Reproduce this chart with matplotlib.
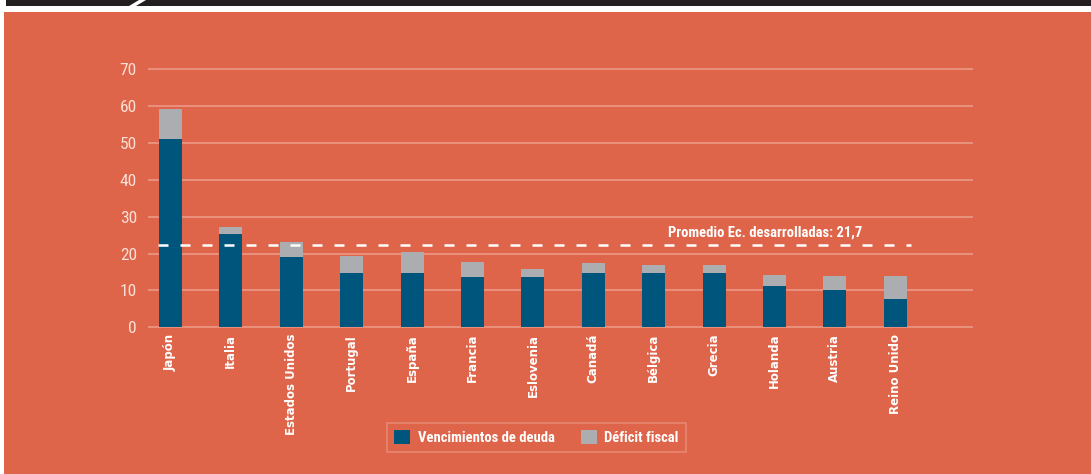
import matplotlib
matplotlib.use("Agg")
import matplotlib.pyplot as plt
from matplotlib.patches import Rectangle, Polygon, Patch
from matplotlib import font_manager
import numpy as np

paises = ["Japón", "Italia", "Estados Unidos", "Portugal", "España", "Francia",
          "Eslovenia", "Canadá", "Bélgica", "Grecia", "Holanda", "Austria",
          "Reino Unido"]
vencimientos = [51.0, 25.4, 19.0, 14.8, 14.6, 13.5, 13.5, 14.6, 14.6, 14.6, 11.1, 10.0, 7.8]
deficit = [8.2, 1.8, 4.1, 4.5, 5.7, 4.1, 2.4, 2.7, 2.2, 2.2, 3.2, 4.0, 6.2]
promedio = "21,7"
promedio_linea = 22.4   # posicion dibujada en el original
yticks = [0, 10, 20, 30, 40, 50, 60, 70]

naranja = "#DE644A"
azul = "#00557D"
gris = "#ABADB1"
rejilla = "#E9907D"
texto_claro = "#FBE0D6"

# fuente estrecha si existe
instaladas = {f.name for f in font_manager.fontManager.ttflist}
narrow = [f for f in ["Liberation Sans Narrow", "DejaVu Sans Condensed", "Roboto Condensed",
                      "Open Sans Condensed"] if f in instaladas] + ["DejaVu Sans"]
estirar = "normal" if narrow[0] != "DejaVu Sans" else "condensed"

W, H = 1091, 474
fig = plt.figure(figsize=(W / 100, H / 100), dpi=100)
fig.patch.set_facecolor("white")

# fondo naranja y franja negra superior
fig.patches.append(Rectangle((4 / W, 0), 1 - 4 / W, 1 - 12 / H, transform=fig.transFigure,
                             facecolor=naranja, edgecolor="none", zorder=-10))
fig.patches.append(Rectangle((6 / W, 1 - 6 / H), 1, 6 / H, transform=fig.transFigure,
                             facecolor="#231F20", edgecolor="none", zorder=-10))
fig.patches.append(Polygon([(129 / W, 1 - 6 / H), (136 / W, 1 - 6 / H),
                            (146 / W, 1), (139 / W, 1)], closed=True,
                           transform=fig.transFigure, facecolor="white",
                           edgecolor="none", zorder=-9))

# ejes: x 148..973 px, y 0 -> 327.3 px, 70 -> 69 px
ppu = (327.3 - 69) / 70
y_lo, y_hi = -1.0, 71.0
top_px = 69 - (y_hi - 70) * ppu
bot_px = 327.3 + (0 - y_lo) * ppu
ax = fig.add_axes([148 / W, 1 - bot_px / H, (973 - 148) / W, (bot_px - top_px) / H])
ax.set_facecolor("none")
ax.set_xlim(-0.372, 13.286)
ax.set_ylim(y_lo, y_hi)
for s in ax.spines.values():
    s.set_visible(False)

for t in yticks:
    ax.axhline(t, color=rejilla, lw=1.5, zorder=0)

x = np.arange(len(paises))
ax.bar(x, vencimientos, width=0.38, color=azul, zorder=2)
ax.bar(x, deficit, width=0.38, bottom=vencimientos, color=gris, zorder=2)

ax.hlines(promedio_linea, -0.207, 12.255, colors="white", lw=1.8,
          linestyles=(0, (4.0, 4.8)), zorder=3)
ax.text(11.46, 24.7, "Promedio Ec. desarrolladas: " + promedio,
        ha="right", va="baseline", color="white", fontsize=10.5,
        fontweight="bold", family=narrow, fontstretch=estirar)

ax.set_yticks(yticks)
ax.set_yticklabels([str(t) for t in yticks], family=narrow, fontsize=12.5,
                   color=texto_claro, fontstretch=estirar)
ax.tick_params(axis="y", length=0, pad=8)
ax.set_xticks(x)
ax.set_xticklabels(paises, rotation=90, fontsize=8.5, fontweight="bold",
                   color="white", va="top", ha="center")
ax.tick_params(axis="x", length=0, pad=2)

handles = [Patch(facecolor=azul, edgecolor="none", label="Vencimientos de deuda"),
           Patch(facecolor=gris, edgecolor="none", label="Déficit fiscal")]
leg = fig.legend(handles=handles, loc="center", bbox_to_anchor=(536.5 / W, 1 - 437.5 / H),
                 ncol=2, frameon=True, fancybox=False, handlelength=1.1,
                 handleheight=1.1, handletextpad=0.5, columnspacing=1.8,
                 borderpad=0.5,
                 prop={"family": narrow, "weight": "bold", "size": 10.5,
                       "stretch": estirar})
leg.get_frame().set_facecolor("none")
leg.get_frame().set_edgecolor(rejilla)
leg.get_frame().set_linewidth(1.2)
for t in leg.get_texts():
    t.set_color("white")

fig.savefig("out.png", dpi=100)
